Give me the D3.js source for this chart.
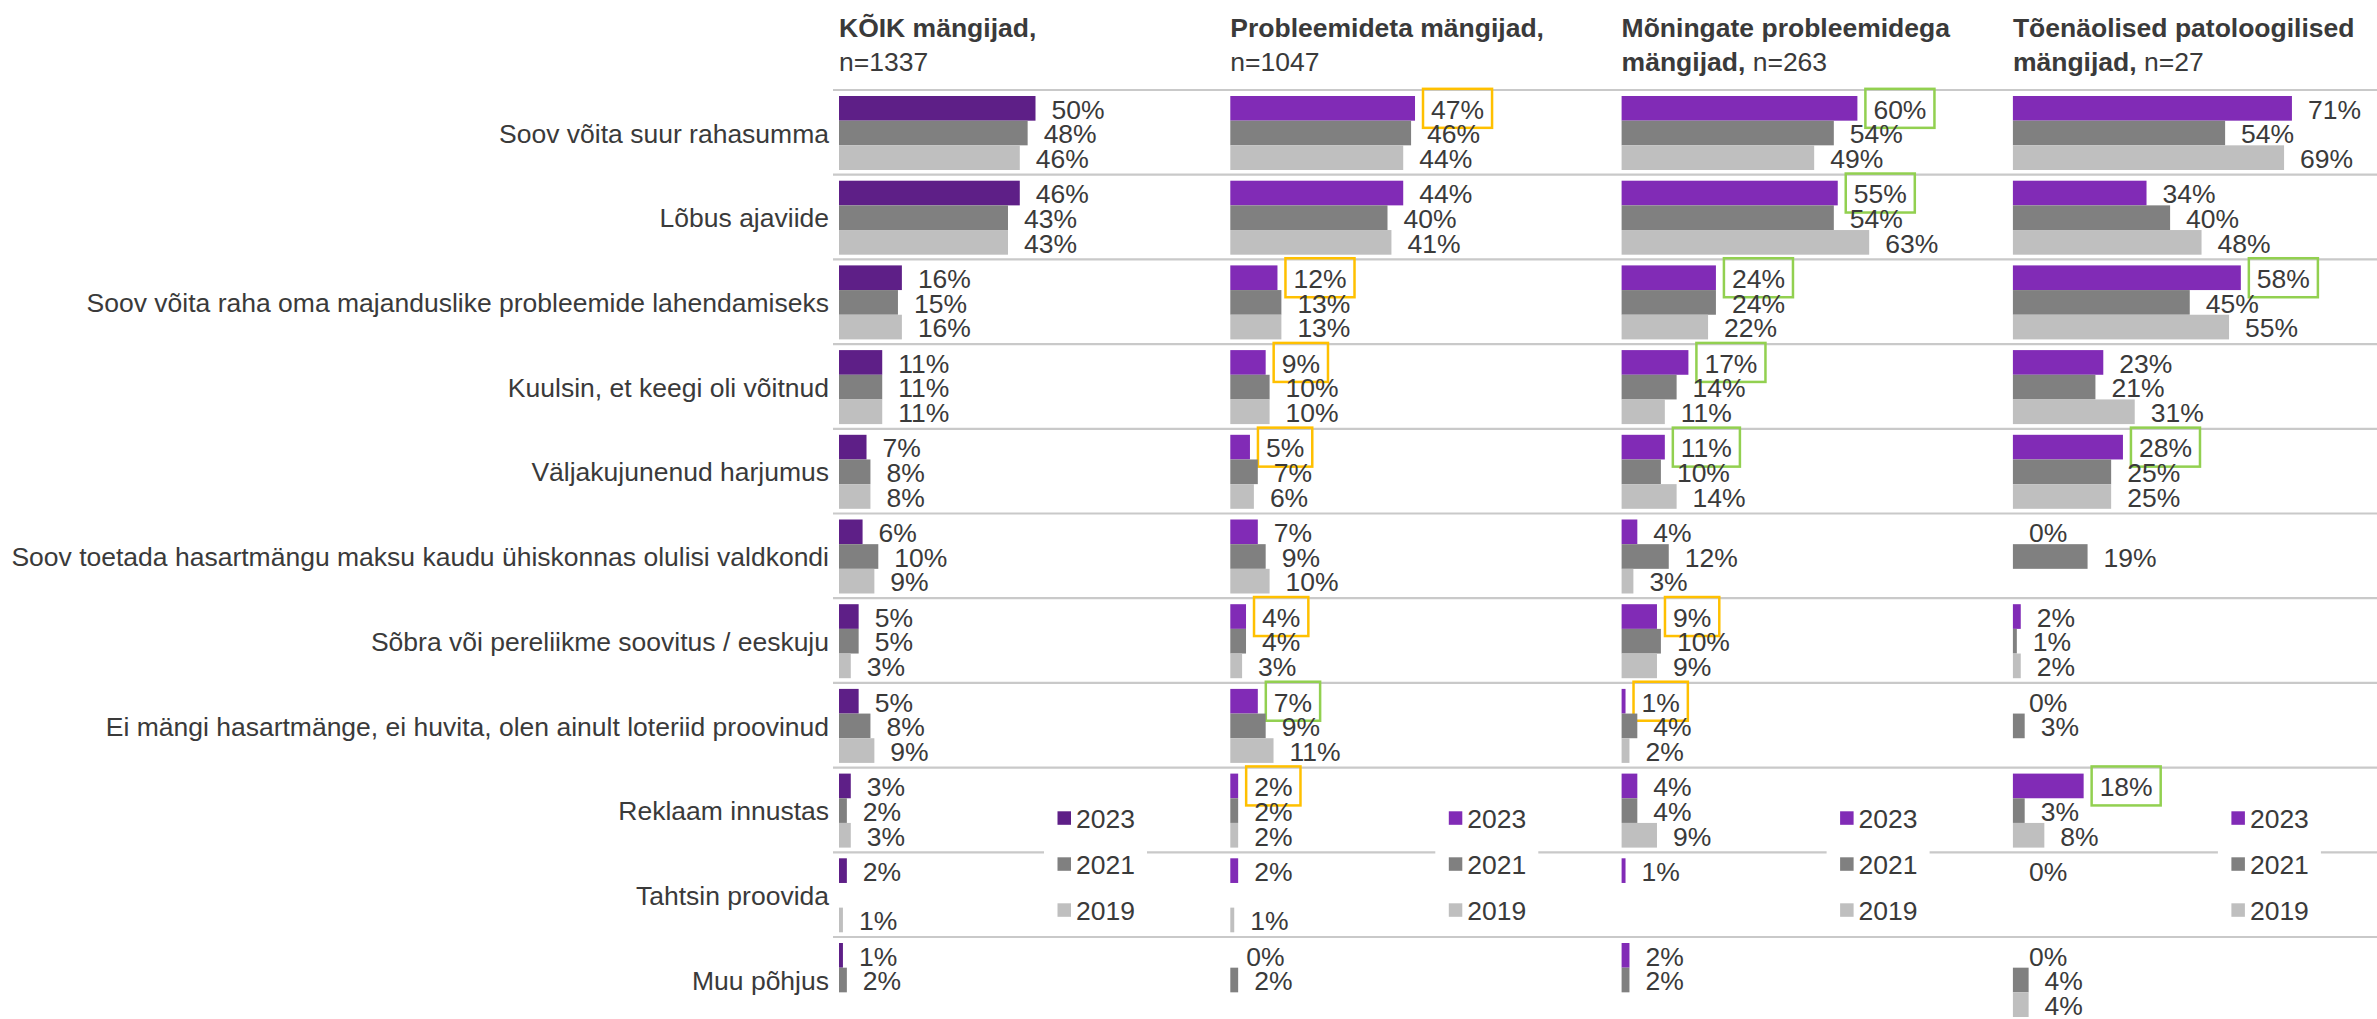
<!DOCTYPE html>
<html>
<head>
<meta charset="utf-8">
<script src="https://cdn.jsdelivr.net/npm/d3@7"></script>
<style>
  body { margin: 0; background: #fff; }
  svg text { font-family: "Liberation Sans", Arial, sans-serif; fill: #3a3a3a; }
</style>
</head>
<body>
<svg id="chart" width="2377" height="1019"></svg>
<script>
// reasons (rows)
const reasons = [
    "Soov võita suur rahasumma",
    "Lõbus ajaviide",
    "Soov võita raha oma majanduslike probleemide lahendamiseks",
    "Kuulsin, et keegi oli võitnud",
    "Väljakujunenud harjumus",
    "Soov toetada hasartmängu maksu kaudu ühiskonnas olulisi valdkondi",
    "Sõbra või pereliikme soovitus / eeskuju",
    "Ei mängi hasartmänge, ei huvita, olen ainult loteriid proovinud",
    "Reklaam innustas",
    "Tahtsin proovida",
    "Muu põhjus"
];
const years = ["2023", "2021", "2019"];

// panel headers
const groupTitle1 = ["KÕIK mängijad,", "Probleemideta mängijad,", "Mõningate probleemidega", "Tõenäolised patoloogilised"];
const groupTitle2 = ["", "", "mängijad,", "mängijad,"];
const groupN = ["n=1337", "n=1047", "n=263", "n=27"];

// values, % (null = no bar, no label)
const koik2023 = [50, 46, 16, 11, 7, 6, 5, 5, 3, 2, 1];
const koik2021 = [48, 43, 15, 11, 8, 10, 5, 8, 2, null, 2];
const koik2019 = [46, 43, 16, 11, 8, 9, 3, 9, 3, 1, null];

const probleemideta2023 = [47, 44, 12, 9, 5, 7, 4, 7, 2, 2, 0];
const probleemideta2021 = [46, 40, 13, 10, 7, 9, 4, 9, 2, null, 2];
const probleemideta2019 = [44, 41, 13, 10, 6, 10, 3, 11, 2, 1, null];

const moningate2023 = [60, 55, 24, 17, 11, 4, 9, 1, 4, 1, 2];
const moningate2021 = [54, 54, 24, 14, 10, 12, 10, 4, 4, null, 2];
const moningate2019 = [49, 63, 22, 11, 14, 3, 9, 2, 9, null, null];

const patoloogilised2023 = [71, 34, 58, 23, 28, 0, 2, 0, 18, 0, 0];
const patoloogilised2021 = [54, 40, 45, 21, 25, 19, 1, 3, 3, null, 4];
const patoloogilised2019 = [69, 48, 55, 31, 25, null, 2, null, 8, null, 4];

// highlighted 2023 labels: "o" = orange frame, "g" = green frame
const koikMark = [null, null, null, null, null, null, null, null, null, null, null];
const probleemidetaMark = ["o", null, "o", "o", "o", null, "o", "g", "o", null, null];
const moningateMark = ["g", "g", "g", "g", "g", null, "o", "o", null, null, null];
const patoloogilisedMark = [null, null, "g", null, "g", null, null, null, "g", null, null];

const panelValues = [
    [koik2023, koik2021, koik2019],
    [probleemideta2023, probleemideta2021, probleemideta2019],
    [moningate2023, moningate2021, moningate2019],
    [patoloogilised2023, patoloogilised2021, patoloogilised2019]
];
const panelMarks = [koikMark, probleemidetaMark, moningateMark, patoloogilisedMark];

const purpleDark = "#5E1F87", purple = "#812BB6";
const markColor = { o: "#FFC000", g: "#92D050" };
const fontSize = 26.5;

let svg = d3.select("#chart");

let panelScale = d3.scaleBand()
    .domain(d3.range(4))
    .range([839, 839 + 4 * 391.3]);

let yScale = d3.scaleBand()
    .domain(reasons)
    .range([90, 90 + reasons.length * 84.7]);

let yearScale = d3.scaleBand()
    .domain(years)
    .range([6, 80]);

let xScale = d3.scaleLinear()
    .domain([0, 100])
    .range([0, 393]);

function barColor(p, y) {
    if (y === 0) return p === 0 ? purpleDark : purple;
    return y === 1 ? "#808080" : "#BFBFBF";
}

// row separators
svg.append("g").selectAll("line")
    .data(reasons)
    .join("line")
    .attr("x1", 833).attr("x2", 2377)
    .attr("y1", d => yScale(d)).attr("y2", d => yScale(d))
    .attr("stroke", "#C9C9C9")
    .attr("stroke-width", 2.2);

// row labels
svg.append("g").selectAll("text")
    .data(reasons)
    .join("text")
    .attr("x", 829)
    .attr("y", d => yScale(d) + yScale.bandwidth() / 2 + 1)
    .attr("dy", "0.35em")
    .attr("text-anchor", "end")
    .style("font-size", fontSize + "px")
    .text(d => d);

// panels
panelValues.forEach(function(series, p) {
    let x0 = panelScale(p);
    let g = svg.append("g").attr("transform", "translate(" + x0 + ",0)");

    // header
    g.append("text")
        .attr("x", 0).attr("y", 37)
        .style("font-size", fontSize + "px")
        .style("font-weight", "bold")
        .text(groupTitle1[p]);
    let line2 = g.append("text")
        .attr("x", 0).attr("y", 71)
        .style("font-size", fontSize + "px");
    if (groupTitle2[p]) {
        line2.append("tspan").style("font-weight", "bold").text(groupTitle2[p]);
        line2.append("tspan").text(" " + groupN[p]);
    } else {
        line2.append("tspan").text(groupN[p]);
    }

    series.forEach(function(vals, yi) {
        vals.forEach(function(v, ri) {
            if (v === null) return;
            let yTop = yScale(reasons[ri]) + yearScale(years[yi]);
            let h = yearScale.bandwidth();
            let w = xScale(v);
            if (w > 0) {
                g.append("rect")
                    .attr("x", 0).attr("y", yTop)
                    .attr("width", w).attr("height", h)
                    .attr("fill", barColor(p, yi));
            }
            let label = g.append("text")
                .attr("x", w + 16)
                .attr("y", yTop + h / 2 + 1)
                .attr("dy", "0.35em")
                .style("font-size", fontSize + "px")
                .text(v + "%");

            // frame round the highlighted 2023 label
            let mark = panelMarks[p][ri];
            if (yi === 0 && mark) {
                let tw = label.node().getComputedTextLength();
                g.append("rect")
                    .attr("x", w + 8)
                    .attr("y", yTop + h / 2 - 19.5)
                    .attr("width", tw + 16)
                    .attr("height", 39)
                    .attr("fill", "none")
                    .attr("stroke", markColor[mark])
                    .attr("stroke-width", 2.5);
            }
        });
    });

    // legend
    let lg = g.append("g").attr("transform", "translate(205,796)");
    lg.append("rect")
        .attr("x", 0).attr("y", 0)
        .attr("width", 103).attr("height", 134)
        .attr("fill", "#fff");
    years.forEach(function(yr, yi) {
        let cy = 22 + yi * 46;
        lg.append("rect")
            .attr("x", 13.5).attr("y", cy - 6.7)
            .attr("width", 13.5).attr("height", 13.5)
            .attr("fill", barColor(p, yi));
        lg.append("text")
            .attr("x", 32).attr("y", cy + 1)
            .attr("dy", "0.35em")
            .style("font-size", fontSize + "px")
            .text(yr);
    });
});
</script>
</body>
</html>
